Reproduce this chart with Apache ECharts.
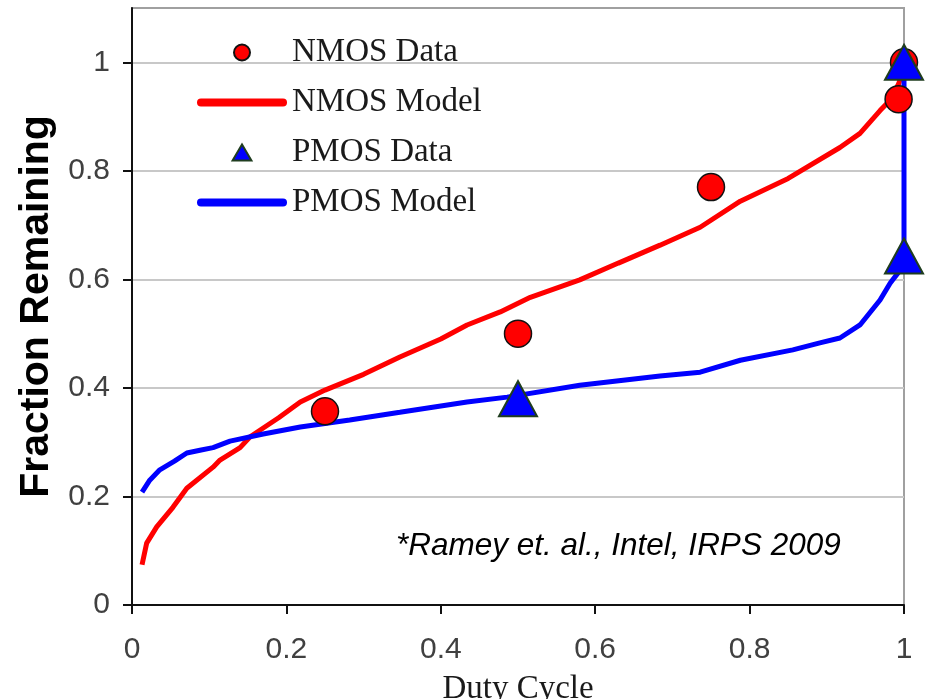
<!DOCTYPE html>
<html>
<head>
<meta charset="utf-8">
<script src="https://cdn.jsdelivr.net/npm/echarts@6/dist/echarts.min.js"></script>
<style>
  html, body { margin: 0; padding: 0; background: #fff; }
  #chart { width: 926px; height: 699px; }
</style>
</head>
<body>
<div id="chart"></div>
<script>
// data
var xTicks = [0, 0.2, 0.4, 0.6, 0.8, 1];
var yTicks = [0, 0.2, 0.4, 0.6, 0.8, 1];

var nmosData = [[0.25, 0.357], [0.5, 0.50], [0.75, 0.77], [0.993, 0.932], [1.0, 1.0]];
var pmosData = [[0.5, 0.38], [1.0, 0.643], [1.0, 1.0]];

var nmosModel = [
    [0.013, 0.074], [0.019, 0.114], [0.032, 0.144], [0.053, 0.18], [0.071, 0.215],
    [0.105, 0.254], [0.114, 0.267], [0.14, 0.29], [0.153, 0.31], [0.19, 0.345],
    [0.218, 0.374], [0.25, 0.396], [0.3, 0.425], [0.347, 0.457], [0.4, 0.49],
    [0.434, 0.516], [0.477, 0.54], [0.516, 0.567], [0.58, 0.599], [0.63, 0.63],
    [0.684, 0.663], [0.736, 0.696], [0.788, 0.744], [0.85, 0.786], [0.917, 0.843],
    [0.943, 0.869], [0.969, 0.911], [0.982, 0.93], [0.993, 0.96], [1.0, 0.99]
];
var pmosModel = [
    [0.013, 0.208], [0.023, 0.23], [0.036, 0.249], [0.055, 0.265], [0.071, 0.28],
    [0.088, 0.285], [0.105, 0.29], [0.127, 0.302], [0.17, 0.315], [0.218, 0.328],
    [0.282, 0.341], [0.347, 0.355], [0.434, 0.374], [0.486, 0.383], [0.58, 0.405],
    [0.684, 0.422], [0.736, 0.429], [0.788, 0.451], [0.856, 0.47], [0.891, 0.483],
    [0.917, 0.492], [0.943, 0.516], [0.969, 0.562], [0.982, 0.593], [0.995, 0.617],
    [1.0, 0.64], [1.0, 1.0]
];

// legend icons
var lineIcon = 'path://M4,0L86,0A4,4,0,0,1,86,8L4,8A4,4,0,0,1,4,0Z';
var triIcon = 'path://M0,17L10,0L20,17Z';

var chart = echarts.init(document.getElementById('chart'));
var option = {
    animation: false,
    grid: {
        left: 132, top: 8, right: 22, bottom: 94,
        containLabel: false,
        outerBoundsMode: 'none',
        show: true, borderColor: '#a0a0a0', borderWidth: 2
    },
    legend: {
        orient: 'vertical',
        left: 192,
        top: 31,
        itemWidth: 90,
        itemHeight: 16,
        itemGap: 17,
        data: [
            { name: 'NMOS Data', icon: 'circle' },
            { name: 'NMOS Model', icon: lineIcon },
            { name: 'PMOS Data', icon: triIcon },
            { name: 'PMOS Model', icon: lineIcon }
        ],
        textStyle: { fontFamily: 'Liberation Serif', fontSize: 33, color: '#1a1a1a' }
    },
    xAxis: {
        type: 'value',
        min: 0, max: 1, interval: 0.2,
        name: 'Duty Cycle',
        nameLocation: 'middle',
        nameGap: 68,
        nameTextStyle: { fontFamily: 'Liberation Serif', fontSize: 33, color: '#1a1a1a' },
        axisLine: { show: true, lineStyle: { color: '#111', width: 2 } },
        axisTick: { show: true, inside: false, length: 9, lineStyle: { color: '#111', width: 2 } },
        axisLabel: { margin: 30, fontFamily: 'Liberation Sans', fontSize: 30, color: '#404040' },
        splitLine: { show: false }
    },
    yAxis: {
        type: 'value',
        min: 0, max: 1.1,
        name: 'Fraction Remaining',
        nameLocation: 'middle',
        nameGap: 73,
        nameTextStyle: { fontFamily: 'Liberation Sans', fontSize: 41, fontWeight: 'bold', color: '#000', padding: [0, 0, 0, 0] },
        axisLine: { show: true, lineStyle: { color: '#111', width: 2 } },
        axisTick: { show: true, inside: false, length: 9, customValues: yTicks, lineStyle: { color: '#111', width: 2 } },
        axisLabel: { margin: 22, customValues: yTicks, fontFamily: 'Liberation Sans', fontSize: 30, color: '#404040' },
        splitLine: { show: true, lineStyle: { color: '#c8c8c8', width: 2 } }
    },
    graphic: [{
        type: 'text',
        left: 396,
        top: 530,
        style: {
            text: '*Ramey et. al., Intel, IRPS 2009',
            font: 'italic 31.5px "Liberation Sans"',
            fill: '#000'
        }
    }],
    series: [
        {
            name: 'NMOS Model',
            type: 'line',
            data: nmosModel,
            showSymbol: false,
            symbol: 'none',
            lineStyle: { color: '#ff0000', width: 5 },
            itemStyle: { color: '#ff0000' },
            z: 2
        },
        {
            name: 'PMOS Model',
            type: 'line',
            data: pmosModel,
            showSymbol: false,
            symbol: 'none',
            lineStyle: { color: '#0000ff', width: 5 },
            itemStyle: { color: '#0000ff' },
            z: 3
        },
        {
            name: 'NMOS Data',
            type: 'scatter',
            data: nmosData,
            symbol: 'circle',
            symbolSize: 27,
            itemStyle: { color: '#ff0000', borderColor: '#111', borderWidth: 1.5, opacity: 1 },
            z: 4
        },
        {
            name: 'PMOS Data',
            type: 'scatter',
            data: pmosData,
            symbol: 'triangle',
            symbolSize: [38, 35],
            itemStyle: { color: '#0000ff', borderColor: '#1f3d1f', borderWidth: 2, opacity: 1 },
            z: 5
        }
    ]
};
chart.setOption(option);
</script>
</body>
</html>
